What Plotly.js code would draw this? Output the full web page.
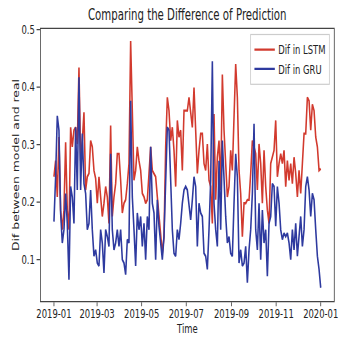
<!DOCTYPE html>
<html>
<head>
<meta charset="utf-8">
<script src="https://cdn.plot.ly/plotly-3.0.1.min.js"></script>
<style>
html,body{margin:0;padding:0;background:#fff;overflow:hidden;}
#wrap{width:339px;height:337px;overflow:hidden;position:relative;}
#chart{width:498px;height:337px;transform:scaleX(0.68);transform-origin:0 0;position:absolute;left:0;top:0;}
</style>
</head>
<body>
<div id="wrap"><div id="chart"></div></div>
<script>
// Sampling: evenly spaced points from 2019-01-01 to 2020-01-01
const startDate = '2019-01-01';
const stepDays = 2.28125;

const seriesNames = ['Dif in LSTM', 'Dif in GRU'];

const lstmValues = [
  0.244,0.272,0.209,0.313,0.186,0.152,0.186,0.304,0.186,0.152,0.330,0.296,0.325,0.330,0.301,0.434,0.272,0.307,0.356,0.221,
  0.244,0.250,0.307,0.296,0.255,0.241,0.198,0.244,0.209,0.175,0.198,0.227,0.209,0.163,0.333,0.175,0.209,0.232,0.284,
  0.284,0.238,0.181,0.198,0.204,0.232,0.267,0.480,0.347,0.238,0.255,0.296,0.272,0.255,0.215,0.209,0.198,0.204,0.250,0.296,
  0.255,0.250,0.244,0.209,0.175,0.140,0.111,0.140,0.296,0.382,0.359,0.307,0.330,0.290,0.227,0.342,0.313,0.325,0.255,0.359,0.359,
  0.359,0.382,0.353,0.330,0.399,0.330,0.250,0.290,0.319,0.319,0.267,0.255,0.301,0.238,0.227,0.163,0.353,0.204,0.278,0.307,
  0.221,0.422,0.325,0.267,0.209,0.227,0.290,0.255,0.336,0.440,0.382,0.255,0.215,0.140,0.198,0.198,0.204,0.204,0.250,0.307,0.296,
  0.284,0.221,0.301,0.267,0.198,0.290,0.227,0.186,0.163,0.267,0.278,0.290,0.342,0.244,0.267,0.284,0.267,0.290,0.227,0.272,
  0.238,0.267,0.232,0.278,0.250,0.209,0.255,0.215,0.267,0.319,0.319,0.382,0.376,0.325,0.370,0.359,0.313,0.296,0.255,0.258
];

const gruValues = [
  0.166,0.244,0.350,0.325,0.181,0.129,0.152,0.215,0.163,0.065,0.227,0.209,0.163,0.330,0.221,0.417,0.221,0.319,0.232,0.215,
  0.152,0.163,0.221,0.152,0.106,0.117,0.094,0.089,0.152,0.129,0.077,0.152,0.140,0.123,0.284,0.152,0.117,0.129,0.152,
  0.123,0.152,0.100,0.094,0.074,0.135,0.129,0.376,0.209,0.152,0.089,0.181,0.152,0.175,0.123,0.163,0.100,0.175,0.152,0.296,
  0.198,0.181,0.100,0.204,0.158,0.129,0.100,0.140,0.244,0.330,0.325,0.244,0.152,0.111,0.106,0.152,0.135,0.163,0.198,0.221,0.227,
  0.221,0.198,0.169,0.204,0.244,0.227,0.123,0.198,0.181,0.175,0.111,0.106,0.083,0.152,0.238,0.445,0.198,0.152,0.123,0.272,
  0.152,0.307,0.238,0.175,0.129,0.140,0.111,0.106,0.198,0.284,0.244,0.094,0.117,0.089,0.094,0.123,0.060,0.117,0.152,0.215,0.336,
  0.152,0.117,0.198,0.100,0.186,0.129,0.152,0.071,0.163,0.175,0.232,0.227,0.158,0.227,0.198,0.152,0.135,0.146,0.140,0.146,
  0.129,0.100,0.152,0.117,0.163,0.106,0.140,0.175,0.123,0.152,0.227,0.244,0.221,0.175,0.215,0.204,0.152,0.106,0.083,0.051
];

const tickDates = ['2019-01-01','2019-03-01','2019-05-01','2019-07-01','2019-09-01','2019-11-01','2020-01-01'];
const tickLabels = ['2019-01','2019-03','2019-05','2019-07','2019-09','2019-11','2020-01'];
const yTicks = [0.1, 0.2, 0.3, 0.4, 0.5];
const yTickLabels = ['0.1', '0.2', '0.3', '0.4', '0.5'];

const FONT = '"DejaVu Sans", sans-serif';
const DAY_MS = 86400000;

const traces = [
  {
    type: 'scatter', mode: 'lines', name: seriesNames[0],
    x0: startDate, dx: stepDays * DAY_MS, y: lstmValues,
    line: {color: '#d23a2e', width: 2.3}
  },
  {
    type: 'scatter', mode: 'lines', name: seriesNames[1],
    x0: startDate, dx: stepDays * DAY_MS, y: gruValues,
    line: {color: '#2e3a9f', width: 2.3}
  }
];

const axisCommon = {
  showline: true, mirror: true, linecolor: '#444', linewidth: 1.2,
  ticks: 'outside', tickwidth: 1.2, tickcolor: '#444',
  showgrid: false, zeroline: false,
  tickfont: {family: FONT, size: 12.4, color: '#222'}
};

const layout = {
  width: 498, height: 337,
  margin: {l: 60, r: 7, t: 29, b: 36, pad: 0},
  paper_bgcolor: '#fff', plot_bgcolor: '#fff',
  title: {
    text: 'Comparing the Difference of Prediction',
    font: {family: FONT, size: 15, color: '#222'},
    x: 0.553, xanchor: 'center', y: 0.955, yanchor: 'middle'
  },
  xaxis: Object.assign({}, axisCommon, {
    type: 'date', range: ['2018-12-14', '2020-01-19'],
    tickmode: 'array', tickvals: tickDates, ticktext: tickLabels,
    tickangle: 0, ticklen: 4, ticklabelstandoff: -3,
    title: {text: 'Time', font: {family: FONT, size: 12.4, color: '#222'}, standoff: 0}
  }),
  yaxis: Object.assign({}, axisCommon, {
    range: [0.028, 0.501], ticklen: 5,
    tickmode: 'array', tickvals: yTicks, ticktext: yTickLabels,
    title: {text: 'Dif between model and real', font: {family: FONT, size: 12.4, color: '#222'}, standoff: 0}
  }),
  legend: {
    x: 0.986, y: 0.982, xanchor: 'right', yanchor: 'top',
    bgcolor: 'rgba(255,255,255,0.85)', bordercolor: '#ccc', borderwidth: 1.2,
    font: {family: FONT, size: 12.4, color: '#222'},
    tracegroupgap: 0
  },
  showlegend: true
};

Plotly.newPlot('chart', traces, layout, {displayModeBar: false, staticPlot: true});
</script>
</body>
</html>
